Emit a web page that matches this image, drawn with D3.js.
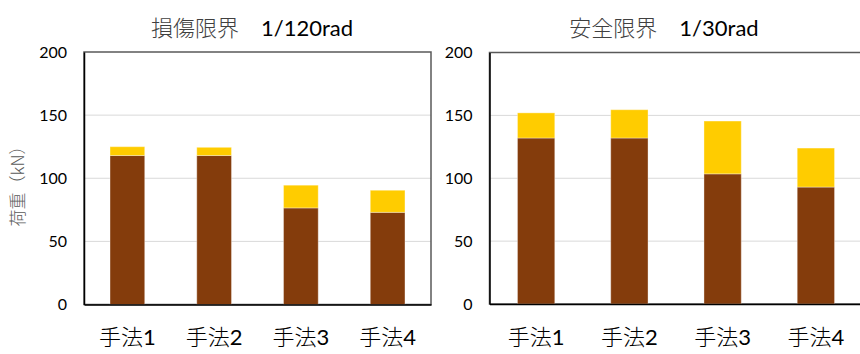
<!DOCTYPE html>
<html>
<head>
<meta charset="utf-8">
<script src="https://cdn.jsdelivr.net/npm/d3@7"></script>
<style>
  html, body { margin: 0; padding: 0; background: #fff; }
  svg { display: block; }
  .jp { font-family: "Noto Sans CJK JP", "Noto Sans", sans-serif; font-weight: 300; }
  .num { font-family: Lato, "Open Sans", "Liberation Sans", sans-serif; }
</style>
</head>
<body>
<svg id="chart" width="860" height="354"></svg>
<script>
// Categories and stacked load values (kN)
const categories = ["手法1", "手法2", "手法3", "手法4"];
const damageBase = [118, 118, 76.5, 73];
const damageExtra = [7, 6.5, 18, 17.5];
const safetyBase = [132, 132, 103.5, 93];
const safetyExtra = [20, 22.5, 42, 31];
const yTicks = [0, 50, 100, 150, 200];
const titles = [
  { jp: "損傷限界", rad: "1/120rad" },
  { jp: "安全限界", rad: "1/30rad" }
];
const seriesKeys = ["base", "extra"];
const seriesColors = ["#843C0C", "#FFCC00"];

const svg = d3.select("#chart");

const panels = [
  { base: damageBase, extra: damageExtra, title: titles[0],
    x0: 84, x1: 431, y0: 52, y1: 304.5, titleX: 252, yLabel: true },
  { base: safetyBase, extra: safetyExtra, title: titles[1],
    x0: 489.5, x1: 862.5, y0: 52.5, y1: 304, titleX: 664, yLabel: false }
];

panels.forEach(p => {
  const g = svg.append("g");
  const rows = categories.map((c, i) => ({ cat: c, base: p.base[i], extra: p.extra[i] }));
  const stacked = d3.stack().keys(seriesKeys)(rows);

  const x = d3.scaleBand().domain(categories).range([p.x0, p.x1])
    .paddingInner(0.6).paddingOuter(0.3);
  const y = d3.scaleLinear().domain([0, 200]).range([p.y1, p.y0]);

  // horizontal gridlines
  g.append("g").selectAll("line").data(yTicks.filter(t => t > 0 && t < 200)).join("line")
    .attr("x1", p.x0).attr("x2", p.x1)
    .attr("y1", d => y(d)).attr("y2", d => y(d))
    .attr("stroke", "#D9D9D9").attr("stroke-width", 1);

  // plot frame
  g.append("rect")
    .attr("x", p.x0).attr("y", p.y0)
    .attr("width", p.x1 - p.x0).attr("height", p.y1 - p.y0)
    .attr("fill", "none").attr("stroke", "#595959").attr("stroke-width", 1.5);

  // stacked bars
  g.append("g").selectAll("g").data(stacked).join("g")
    .attr("fill", (d, i) => seriesColors[i])
    .selectAll("rect").data(d => d).join("rect")
      .attr("x", d => x(d.data.cat))
      .attr("width", x.bandwidth())
      .attr("y", d => y(d[1]))
      .attr("height", d => y(d[0]) - y(d[1]))
      .attr("stroke", "#fff").attr("stroke-opacity", 0.35).attr("stroke-width", 1);

  // y axis
  const yAxis = d3.axisLeft(y).tickValues(yTicks).tickSize(0).tickPadding(17);
  const ya = g.append("g").attr("transform", `translate(${p.x0},0)`).call(yAxis);
  ya.select(".domain").attr("stroke", "#000").attr("stroke-width", 1.5);
  ya.selectAll("text").attr("class", "num").attr("font-size", 16).attr("fill", "#000");

  // x axis: Japanese part and digit styled separately
  const xAxis = d3.axisBottom(x).tickSize(0).tickPadding(25);
  const xa = g.append("g").attr("transform", `translate(0,${p.y1})`).call(xAxis);
  xa.select(".domain").attr("stroke", "#000").attr("stroke-width", 1.5);
  xa.selectAll("text").attr("font-size", 22).attr("fill", "#000").each(function (d) {
    const el = d3.select(this).text(null);
    el.append("tspan").attr("class", "jp").text(d.slice(0, -1));
    el.append("tspan").attr("class", "num").text(d.slice(-1));
  });

  // title
  const t = g.append("text").attr("x", p.titleX).attr("y", 36)
    .attr("text-anchor", "middle").attr("font-size", 22);
  t.append("tspan").attr("class", "jp").attr("fill", "#404040").text(p.title.jp + "　");
  t.append("tspan").attr("class", "num").attr("fill", "#000").text(p.title.rad);

  if (p.yLabel) {
    g.append("text").attr("class", "jp")
      .attr("transform", "translate(24,182) rotate(-90)")
      .attr("text-anchor", "middle").attr("font-size", 17).attr("fill", "#595959")
      .text("荷重（kN）");
  }
});
</script>
</body>
</html>
